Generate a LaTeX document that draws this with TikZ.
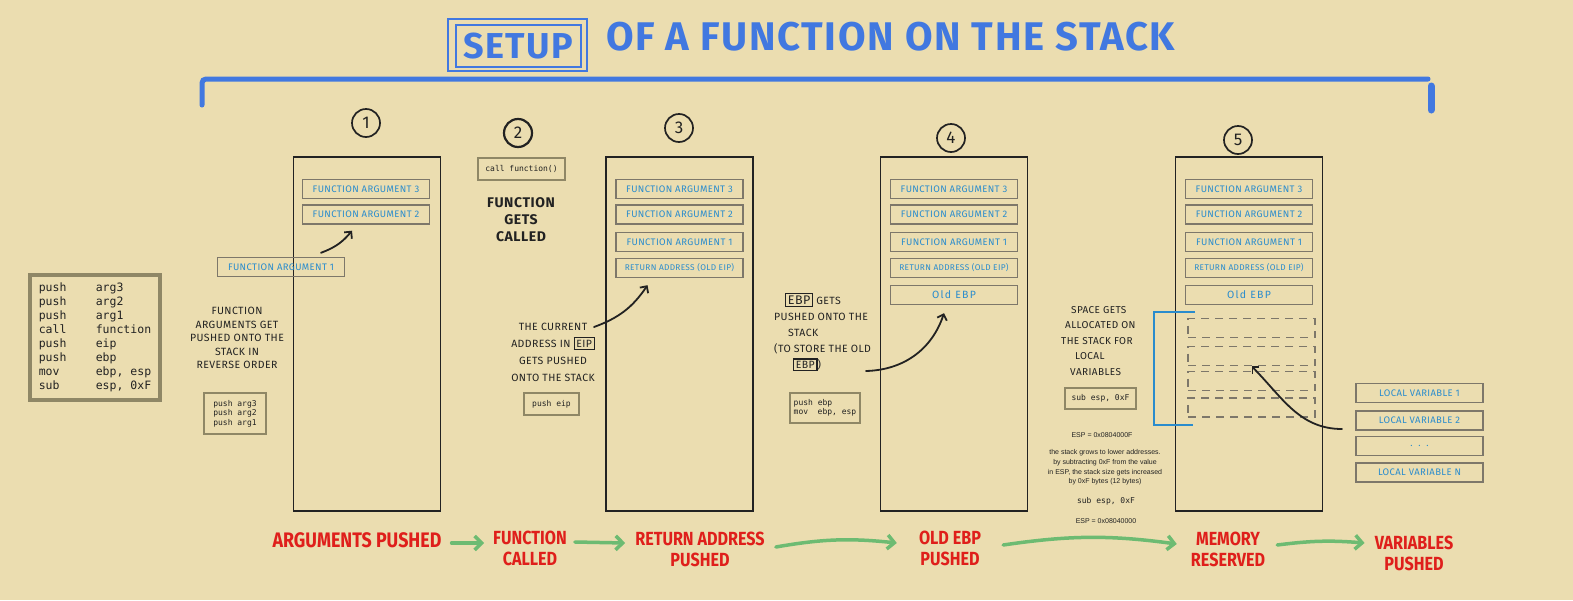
\documentclass[tikz,border=0pt]{standalone}
\usepackage{fontspec}
\setmainfont{Fira Sans}
\setmonofont{DejaVu Sans Mono}
\newfontfamily\notefont{Liberation Sans}
\newfontfamily\handfont[LetterSpace=4]{Fira Sans}
\newfontfamily\markfont[FakeStretch=0.85]{Fira Sans}
\usetikzlibrary{arrows.meta,positioning}

\definecolor{paper}{HTML}{EBDDB0}
\definecolor{ink}{HTML}{222222}
\definecolor{titleblue}{HTML}{4178E0}
\definecolor{slotblue}{HTML}{2A8CCD}
\definecolor{slotgray}{HTML}{7D776A}
\definecolor{codegray}{HTML}{8F8766}
\definecolor{markred}{HTML}{DF1F1B}
\definecolor{markgreen}{HTML}{6DBB72}

\newcommand{\asmop}[1]{\makebox[57pt][l]{#1}}
\newcommand{\regbox}[1]{{\setlength{\fboxrule}{1.2pt}\setlength{\fboxsep}{1.5pt}\fbox{#1}}}

\begin{document}
\begin{tikzpicture}[x=1pt,y=-1pt,
  every node/.style={inner sep=0pt},
  frame/.style={draw=ink,line width=1.8pt,minimum width=147pt,minimum height=354pt},
  slot/.style={draw=slotgray,line width=1.4pt,minimum width=127pt,minimum height=19pt,
    text=slotblue,font=\handfont\fontsize{9.5}{10}\selectfont},
  freeslot/.style={draw=slotgray,line width=1.4pt,dash pattern=on 8pt off 6pt,
    minimum width=127pt,minimum height=19pt},
  codebox/.style={draw=codegray,line width=1.2pt,text=ink,align=left,
    font=\ttfamily\fontsize{8}{9.5}\selectfont},
  stepnum/.style={circle,draw=ink,line width=1.7pt,minimum size=28pt,text=ink,
    font=\fontsize{17}{17}\selectfont},
  hand/.style={text=ink,align=center,font=\handfont\fontsize{10.5}{13.5}\selectfont},
  redlabel/.style={text=markred,align=center,font=\markfont\bfseries\fontsize{19}{21}\selectfont},
  flow/.style={draw=markgreen,line width=3.5pt,line cap=round,
    -{Straight Barb[length=7pt,width=14pt]}},
  pusharrow/.style={draw=ink,line width=1.8pt,line cap=round,
    -{Straight Barb[length=5pt,width=10pt]}},
  brace/.style={draw=titleblue,line width=5pt,line cap=round,rounded corners=4pt}]

  \fill[paper] (0,0) rectangle (1573,600);
  \useasboundingbox (0,0) rectangle (1573,600);

  % title
  \node[draw=titleblue,line width=1.3pt,minimum width=139pt,minimum height=52pt] (setupout) at (517.5,45) {};
  \node[draw=titleblue,line width=1.3pt,minimum width=125pt,minimum height=42pt,text=titleblue,
    font=\handfont\bfseries\fontsize{36}{36}\selectfont] (setup) at (518.5,46) {SETUP};
  \node[anchor=west,text=titleblue,font=\handfont\bfseries\fontsize{40}{40}\selectfont]
    (title) at (606,37) {OF A FUNCTION ON THE STACK};
  \draw[brace] (202,105) -- (202,79) -- (1428,79);
  \draw[titleblue,line width=7pt,line cap=round] (1431,86) -- (1431,110);

  % instructions
  \node[draw=codegray,line width=4pt,minimum width=130pt,minimum height=125pt,text=ink,align=left,
    font=\ttfamily\fontsize{11.5}{14}\selectfont] (asm) at (95,337.5)
    {\asmop{push}arg3\\\asmop{push}arg2\\\asmop{push}arg1\\\asmop{call}function\\
     \asmop{push}eip\\\asmop{push}ebp\\\asmop{mov}ebp, esp\\\asmop{sub}esp, 0xF};

  % stack frames
  \foreach \cx/\k in {367/1,679.5/3,954/4,1249/5}
    \node[frame] (frame\k) at (\cx,334) {};
  \node[stepnum] (num1) at (366,123) {1};
  \node[stepnum,line width=2.2pt] (num2) at (518,133) {2};
  \node[stepnum] (num3) at (679,128) {3};
  \node[stepnum] (num4) at (951,138) {4};
  \node[stepnum] (num5) at (1238,140) {5};

  \foreach \cx/\k in {366/1,679.5/3,954/4,1249/5} {
    \node[slot] (argc-\k) at (\cx,189) {FUNCTION ARGUMENT 3};
    \node[slot] (argb-\k) at (\cx,214.5) {FUNCTION ARGUMENT 2};
  }
  \foreach \cx/\k in {679.5/3,954/4,1249/5} {
    \node[slot] (arga-\k) at (\cx,242) {FUNCTION ARGUMENT 1};
    \node[slot,font=\handfont\fontsize{8.3}{10}\selectfont] (ret-\k) at (\cx,268) {RETURN ADDRESS (OLD EIP)};
  }
  \foreach \cx/\k in {954/4,1249/5}
    \node[slot,font=\handfont\addfontfeature{LetterSpace=12}\fontsize{10.5}{11}\selectfont] (ebp-\k) at (\cx,295) {Old EBP};

  % step 1
  \node[slot] (arga-1) at (281,267) {FUNCTION ARGUMENT 1};
  \draw[pusharrow] ([xshift=40pt,yshift=4pt]arga-1.north) to[bend right=15]
    ([xshift=-14pt,yshift=-6pt]argb-1.south);
  \node[hand] (argnote) at (237,338) {FUNCTION\\ARGUMENTS GET\\PUSHED ONTO THE\\STACK IN\\REVERSE ORDER};
  \node[codebox,minimum width=62pt,minimum height=41pt] (pusharg) at (235,413.5)
    {push arg3\\push arg2\\push arg1};

  % step 2
  \node[codebox,minimum width=87pt,minimum height=22pt] (callbox) at (521.5,169) {call function()};
  \node[hand,font=\handfont\bfseries\fontsize{14}{17}\selectfont] (callnote) at (521,220)
    {FUNCTION\\GETS\\CALLED};

  % step 3
  \node[hand,font=\handfont\fontsize{10.5}{17}\selectfont] (eipnote) at (553,352)
    {THE CURRENT\\ADDRESS IN \regbox{EIP}\\GETS PUSHED\\ONTO THE STACK};
  \coordinate (eiptail) at (594,327);
  \draw[pusharrow] (eiptail) to[bend right=18] ([xshift=-32pt,yshift=-7pt]ret-3.south);
  \node[codebox,minimum width=55pt,minimum height=22pt] (pusheip) at (551.5,404) {push eip};

  % step 4
  \node[hand,align=left,anchor=west,font=\handfont\fontsize{10.5}{16}\selectfont] (ebpnote) at (774,332)
    {\hspace*{11pt}\regbox{\fontsize{12.5}{12.5}\selectfont EBP} GETS\\PUSHED ONTO THE\\
     \hspace*{14pt}STACK\\(TO STORE THE OLD\\\hspace*{19pt}\regbox{EBP})};
  \coordinate (ebptail) at (866,371);
  \draw[pusharrow] (ebptail) to[bend right=35] ([xshift=-10pt,yshift=-8pt]ebp-4.south);
  \node[codebox,minimum width=70pt,minimum height=30pt] (pushebp) at (825,408)
    {push ebp\\\makebox[24pt][l]{mov}ebp, esp};

  % step 5
  \foreach \y [count=\i] in {328,356,381,407.5}
    \node[freeslot] (dash-\i) at (1251.5,\y) {};
  \draw[slotblue,line width=2.5pt] (1195,312) -- (1154,312) -- (1154,425) -- (1193,425);
  \node[hand,align=left,anchor=west,font=\handfont\fontsize{10}{15.5}\selectfont] (spacenote) at (1061,341)
    {\hspace*{10pt}SPACE GETS\\\hspace*{4pt}ALLOCATED ON\\THE STACK FOR\\
     \hspace*{14pt}LOCAL\\\hspace*{9pt}VARIABLES};
  \node[codebox,minimum width=71pt,minimum height=21pt] (subbox) at (1100.5,398.5) {sub esp, 0xF};
  \node[text=ink,font=\notefont\fontsize{7}{9.7}\selectfont] (espold) at (1102,435) {ESP = 0x0804000F};
  \node[text=ink,align=center,font=\notefont\fontsize{7}{9.7}\selectfont] (grownote) at (1105,467.5)
    {the stack grows to lower addresses.\\by subtracting 0xF from the value\\
     in ESP, the stack size gets increased\\by 0xF bytes (12 bytes)};
  \node[text=ink,font=\ttfamily\fontsize{8}{9.5}\selectfont] (subline) at (1106,501) {sub esp, 0xF};
  \node[text=ink,font=\notefont\fontsize{7}{9.7}\selectfont] (espnew) at (1106,521) {ESP = 0x08040000};

  \foreach \y/\lab [count=\i] in {393/LOCAL VARIABLE 1,420.5/LOCAL VARIABLE 2,446/{.\ \ .\ \ .},472.5/LOCAL VARIABLE N}
    \node[slot] (locv-\i) at (1419.5,\y) {\lab};
  \coordinate (vartail) at (1342,429);
  \draw[pusharrow] (vartail) to[out=180,in=-45] (dash-2.south);

  % steps along the bottom
  \node[redlabel,font=\markfont\bfseries\fontsize{21}{21}\selectfont] (lab1) at (357,540) {ARGUMENTS PUSHED};
  \node[redlabel] (lab2) at (530,548) {FUNCTION\\CALLED};
  \node[redlabel] (lab3) at (700,549) {RETURN ADDRESS\\PUSHED};
  \node[redlabel] (lab4) at (950,548) {OLD EBP\\PUSHED};
  \node[redlabel] (lab5) at (1228,549) {MEMORY\\RESERVED};
  \node[redlabel] (lab6) at (1414,553) {VARIABLES\\PUSHED};

  \draw[flow] ([xshift=10pt,yshift=-3pt]lab1.east) -- ([xshift=-9pt,yshift=5pt]lab2.west);
  \draw[flow] ([xshift=8pt,yshift=6pt]lab2.east) -- ([xshift=-10pt,yshift=6pt]lab3.west);
  \draw[flow] ([xshift=11pt,yshift=2pt]lab3.east) to[bend left=8] ([xshift=-22pt,yshift=5pt]lab4.west);
  \draw[flow] ([xshift=22pt,yshift=3pt]lab4.east) to[bend left=8] ([xshift=-14pt,yshift=5pt]lab5.west);
  \draw[flow] ([xshift=12pt,yshift=4pt]lab5.east) to[bend left=6] ([xshift=-10pt,yshift=10pt]lab6.west);
\end{tikzpicture}
\end{document}
